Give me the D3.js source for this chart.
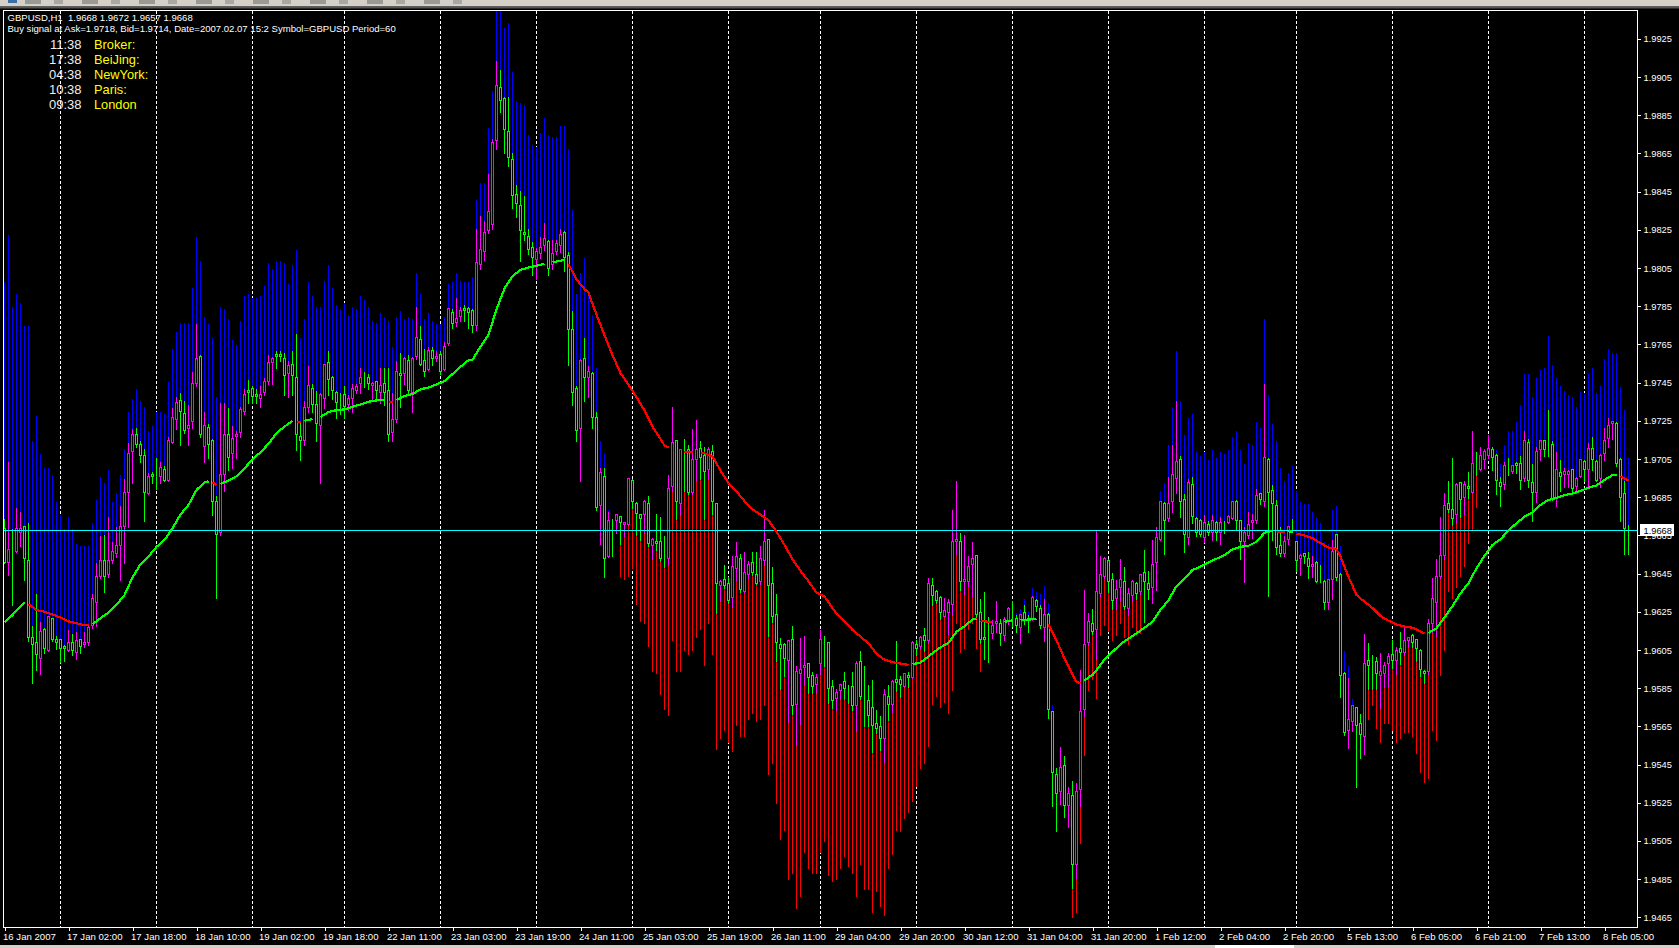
<!DOCTYPE html>
<html><head><meta charset="utf-8">
<script src="https://cdn.jsdelivr.net/npm/d3@7"></script>
<style>
html,body{margin:0;padding:0;background:#000;overflow:hidden}
svg{display:block;font-family:"Liberation Sans",Arial,sans-serif}
</style></head><body><svg id="c" width="1679" height="948"></svg>
<script>
// Prices are in pips: 9668 means 1.9668
const bands=[
9798,9823,9785,9792,9787,9775,9775,9715,9728,9708,
9701,9701,9697,9683,9676,9669,9675,9669,9661,9660,
9660,9660,9672,9684,9696,9693,9700,9683,9688,9697,
9711,9730,9737,9742,9736,9733,9720,9723,9730,9730,
9729,9746,9763,9772,9777,9777,9777,9795,9822,9809,
9780,9776,9769,9738,9785,9784,9779,9768,9765,9778,
9791,9792,9790,9790,9791,9796,9808,9805,9809,9809,
9808,9797,9807,9815,9769,9779,9798,9791,9785,9785,
9799,9807,9795,9786,9784,9787,9781,9785,9784,9791,
9789,9785,9778,9777,9782,9780,9778,9764,9780,9783,
9779,9780,9779,9803,9792,9779,9782,9778,9776,9776,
9780,9797,9798,9803,9799,9798,9798,9801,9841,9850,
9850,9879,9898,9942,9942,9931,9934,9908,9893,9892,
9891,9875,9870,9869,9876,9884,9875,9874,9874,9880,
9880,9868,9836,9792,9803,9811,9792,9781,9753,9715,
9708,9679,0,0,9644,9642,9644,9648,9629,9620,
9619,9607,9594,9593,9582,9574,9571,9610,9594,9594,
9605,9603,9605,9612,9616,9597,9619,9603,9553,9559,
9563,9557,9552,9566,9560,9560,9569,9572,9568,9569,
9576,9540,9546,9525,9506,9511,9485,9488,9470,9476,
9499,9491,9488,9488,9499,9505,9487,9484,9485,9491,
9497,9492,9488,9476,9493,9480,9480,9468,9479,9471,
9466,9491,9498,9511,9510,9517,9520,9526,9534,9543,
9546,9555,9577,9581,9575,9578,9572,9584,9619,9604,
9606,9616,9619,9606,9594,0,0,0,0,0,
0,0,0,9625,9627,9632,9626,9638,9636,9635,
9639,9630,9577,0,0,0,0,9465,9468,9504,
9550,9584,9590,9580,9613,9618,9615,9610,9613,9619,
9612,9608,9617,9615,9614,0,0,0,0,9689,
9693,9713,9733,9762,9736,9718,9727,9729,9709,9707,
9709,9705,9710,9706,9709,9708,9710,9717,9720,9710,
9703,9714,9713,9725,9722,9779,9739,9724,9715,9701,
9694,9698,9702,9689,9683,9682,9682,9678,9675,9672,
9662,9661,9679,9681,9660,9605,9597,9580,0,0,
0,9569,9576,9564,9557,9567,9567,9563,9557,9559,
9562,9562,9560,9551,9541,9536,9538,9563,9558,9592,
9605,9636,9632,9638,9644,9649,9661,9668,9680,0,
0,0,0,9710,9703,9713,9720,9720,9725,9734,
9750,9750,9738,9748,9752,9753,9770,9755,9748,9744,
9741,9739,9738,9733,9741,9740,9750,9753,9740,9744,
9758,9763,9761,9761,9743,9731,9706];
const highs=[
9674,9704,9669,9680,9678,9670,9672,9618,9635,9620,
9617,9623,9622,9613,9611,9608,9616,9614,9615,9611,
9615,9618,9635,9651,9665,9666,9675,9662,9670,9681,
9695,9714,9721,9722,9715,9711,9698,9699,9706,9704,
9702,9717,9732,9738,9740,9736,9734,9751,9776,9760,
9730,9724,9716,9686,9735,9735,9732,9723,9720,9733,
9742,9747,9744,9742,9744,9748,9760,9759,9762,9762,
9761,9757,9762,9771,9725,9736,9754,9745,9741,9740,
9755,9762,9749,9741,9740,9744,9739,9745,9745,9753,
9751,9750,9746,9746,9753,9753,9753,9740,9757,9761,
9759,9760,9759,9785,9775,9763,9764,9764,9762,9762,
9767,9784,9784,9790,9785,9786,9785,9784,9826,9833,
9830,9855,9873,9914,9909,9895,9895,9866,9849,9846,
9843,9826,9819,9816,9822,9829,9820,9820,9820,9826,
9825,9814,9783,9744,9758,9769,9754,9751,9730,9701,
9701,9678,9674,9677,9675,9672,9695,9695,9683,9677,
9684,9686,9664,9677,9675,9665,9697,9733,9715,9710,
9716,9713,9721,9726,9715,9712,9712,9713,9682,9642,
9650,9644,9655,9662,9656,9657,9652,9657,9657,9660,
9679,9663,9649,9635,9612,9609,9610,9618,9597,9612,
9613,9598,9594,9593,9616,9613,9609,9590,9585,9587,
9594,9587,9594,9600,9605,9597,9587,9590,9574,9571,
9585,9587,9590,9610,9592,9593,9594,9610,9611,9613,
9617,9643,9643,9637,9634,9633,9632,9679,9694,9667,
9666,9655,9662,9655,9632,9636,9623,9621,9631,9622,
9623,9628,9631,9624,9624,9629,9624,9634,9632,9629,
9632,9625,9573,9544,9555,9550,9534,9537,9536,9595,
9637,9625,9627,9668,9655,9654,9653,9646,9642,9653,
9649,9638,9642,9641,9645,9658,9647,9663,9670,9683,
9683,9696,9713,9736,9707,9687,9695,9696,9675,9674,
9676,9673,9676,9673,9675,9673,9676,9683,9684,9673,
9670,9678,9677,9690,9688,9745,9706,9692,9684,9670,
9665,9670,9674,9662,9656,9656,9657,9655,9652,9650,
9642,9642,9663,9666,9646,9594,9591,9577,9575,9572,
9614,9609,9603,9602,9604,9599,9604,9611,9607,9615,
9617,9612,9614,9611,9606,9595,9622,9643,9653,9675,
9688,9694,9706,9693,9693,9694,9699,9720,9709,9712,
9711,9718,9712,9708,9696,9704,9706,9702,9704,9707,
9720,9716,9703,9712,9715,9715,9731,9715,9709,9705,
9701,9700,9700,9696,9705,9705,9714,9717,9705,9708,
9722,9727,9725,9725,9706,9694,9671];
const lows=[
9651,9645,9629,9657,9660,9642,9610,9588,9595,9593,
9604,9605,9610,9606,9599,9600,9605,9603,9601,9604,
9607,9608,9617,9618,9643,9636,9644,9651,9654,9642,
9651,9670,9693,9712,9704,9673,9687,9693,9690,9693,
9694,9694,9714,9721,9713,9719,9713,9722,9744,9717,
9704,9706,9676,9633,9666,9689,9700,9701,9706,9717,
9729,9735,9735,9735,9733,9739,9745,9745,9753,9757,
9739,9738,9739,9710,9705,9713,9730,9730,9715,9693,
9732,9739,9737,9727,9729,9727,9731,9730,9740,9740,
9743,9742,9736,9736,9735,9734,9715,9715,9725,9733,
9745,9740,9730,9758,9755,9749,9752,9755,9757,9750,
9752,9765,9774,9775,9778,9778,9774,9772,9773,9805,
9810,9824,9826,9868,9887,9866,9859,9837,9832,9809,
9820,9813,9802,9800,9811,9815,9802,9805,9813,9814,
9804,9755,9734,9715,9694,9736,9738,9722,9679,9661,
9644,9654,9655,9667,9661,9665,9671,9680,9666,9663,
9667,9660,9653,9658,9652,9649,9650,9689,9674,9676,
9689,9687,9687,9694,9695,9674,9695,9677,9625,9631,
9638,9630,9628,9642,9636,9636,9643,9645,9640,9640,
9650,9613,9620,9600,9585,9592,9568,9572,9556,9567,
9587,9583,9583,9583,9593,9597,9578,9575,9574,9580,
9580,9578,9574,9563,9580,9566,9566,9552,9562,9553,
9547,9569,9573,9584,9581,9586,9586,9591,9603,9606,
9605,9609,9629,9630,9622,9623,9614,9624,9656,9637,
9635,9639,9634,9623,9609,9601,9599,9612,9615,9608,
9611,9619,9618,9615,9609,9619,9615,9621,9626,9617,
9610,9570,9524,9511,9525,9518,9513,9481,9486,9524,
9571,9608,9614,9601,9634,9643,9636,9627,9627,9631,
9627,9624,9631,9632,9635,9620,9632,9630,9637,9663,
9656,9673,9678,9688,9675,9657,9661,9672,9665,9665,
9662,9666,9663,9663,9661,9667,9672,9674,9669,9653,
9641,9664,9664,9672,9682,9681,9634,9663,9656,9655,
9655,9661,9668,9647,9645,9651,9643,9644,9641,9641,
9627,9627,9632,9642,9581,9561,9554,9563,9534,9549,
9551,9585,9585,9585,9575,9586,9586,9596,9593,9598,
9603,9607,9607,9600,9592,9588,9593,9615,9613,9643,
9653,9678,9671,9672,9675,9677,9685,9688,9697,9700,
9701,9706,9700,9687,9681,9690,9697,9698,9698,9690,
9694,9691,9673,9683,9705,9707,9707,9684,9681,9689,
9691,9691,9689,9688,9696,9694,9691,9700,9694,9691,
9705,9712,9716,9702,9673,9656,9656];
const opens=[
9669,9651,9659,9657,9667,9670,9652,9612,9609,9601,
9616,9605,9622,9611,9611,9607,9605,9609,9604,9611,
9608,9609,9618,9630,9644,9652,9645,9652,9656,9660,
9670,9688,9709,9718,9713,9707,9687,9697,9697,9696,
9700,9694,9714,9726,9736,9729,9721,9725,9745,9759,
9712,9722,9715,9683,9667,9697,9718,9708,9717,9719,
9730,9741,9742,9739,9737,9740,9746,9756,9760,9760,
9758,9750,9755,9748,9717,9715,9732,9742,9734,9723,
9737,9756,9748,9740,9735,9739,9734,9737,9741,9745,
9748,9748,9744,9746,9740,9745,9741,9719,9726,9750,
9750,9757,9740,9759,9768,9757,9752,9762,9758,9760,
9752,9766,9782,9777,9780,9784,9784,9783,9775,9807,
9814,9825,9828,9872,9900,9894,9877,9862,9844,9838,
9824,9822,9816,9810,9813,9817,9819,9807,9814,9817,
9824,9812,9773,9742,9721,9758,9748,9750,9727,9681,
9696,9654,9672,9673,9675,9671,9671,9694,9682,9676,
9676,9682,9660,9662,9662,9652,9653,9691,9715,9682,
9709,9710,9688,9705,9711,9707,9700,9709,9682,9639,
9642,9640,9633,9648,9653,9636,9645,9651,9645,9641,
9652,9663,9640,9624,9608,9608,9600,9611,9577,9593,
9596,9598,9592,9587,9598,9610,9609,9586,9580,9584,
9589,9584,9586,9576,9599,9582,9579,9575,9567,9565,
9559,9581,9577,9590,9590,9586,9592,9591,9608,9607,
9613,9610,9639,9636,9633,9623,9625,9629,9662,9662,
9641,9641,9650,9655,9625,9612,9613,9614,9619,9619,
9613,9620,9626,9622,9617,9625,9622,9621,9631,9627,
9617,9624,9573,9540,9531,9545,9524,9529,9493,9532,
9574,9609,9619,9616,9635,9644,9652,9642,9632,9638,
9641,9627,9634,9640,9636,9646,9640,9638,9651,9663,
9682,9674,9683,9695,9705,9684,9664,9692,9674,9673,
9664,9671,9667,9672,9667,9671,9672,9674,9683,9673,
9662,9665,9672,9673,9687,9683,9705,9689,9681,9660,
9656,9663,9671,9662,9653,9656,9653,9649,9651,9642,
9641,9630,9642,9666,9645,9593,9563,9568,9575,9567,
9560,9600,9598,9599,9592,9593,9598,9603,9600,9606,
9604,9610,9613,9611,9605,9594,9594,9619,9630,9644,
9655,9682,9679,9676,9693,9685,9691,9688,9702,9700,
9705,9707,9710,9707,9693,9692,9701,9699,9703,9703,
9695,9714,9693,9688,9710,9715,9712,9713,9685,9698,
9697,9697,9700,9691,9696,9704,9700,9711,9704,9695,
9708,9716,9724,9724,9705,9687,9668];
const closes=[
9651,9658,9659,9669,9669,9653,9612,9608,9603,9615,
9606,9623,9611,9609,9606,9606,9609,9605,9610,9607,
9609,9617,9632,9644,9652,9644,9652,9657,9660,9670,
9688,9708,9718,9713,9707,9688,9696,9696,9697,9701,
9694,9715,9727,9735,9730,9720,9723,9745,9758,9718,
9723,9713,9683,9666,9697,9718,9706,9716,9718,9731,
9739,9740,9738,9738,9739,9746,9756,9758,9759,9759,
9749,9754,9749,9718,9715,9732,9744,9734,9724,9739,
9755,9747,9741,9735,9735,9733,9737,9742,9743,9748,
9748,9745,9745,9741,9744,9740,9718,9726,9751,9749,
9758,9741,9758,9769,9755,9751,9762,9758,9759,9751,
9764,9784,9776,9779,9783,9783,9782,9775,9808,9815,
9824,9835,9871,9901,9893,9878,9863,9843,9839,9825,
9823,9815,9811,9814,9816,9821,9805,9813,9818,9823,
9811,9773,9740,9720,9757,9748,9751,9727,9680,9698,
9653,9673,9672,9676,9672,9672,9695,9683,9677,9674,
9683,9661,9663,9661,9653,9652,9690,9714,9683,9710,
9709,9688,9705,9710,9706,9699,9710,9683,9640,9641,
9639,9631,9649,9654,9637,9646,9650,9646,9640,9653,
9662,9639,9623,9609,9606,9601,9610,9576,9594,9595,
9597,9591,9586,9591,9611,9610,9585,9579,9583,9587,
9585,9584,9576,9598,9581,9582,9571,9566,9564,9559,
9582,9577,9589,9588,9587,9593,9591,9609,9606,9612,
9610,9640,9634,9631,9625,9626,9630,9662,9663,9641,
9642,9649,9653,9624,9611,9611,9613,9618,9620,9614,
9621,9627,9626,9618,9624,9621,9621,9633,9628,9618,
9624,9574,9541,9530,9544,9524,9530,9493,9531,9573,
9608,9620,9615,9636,9645,9653,9641,9631,9637,9642,
9628,9635,9641,9635,9645,9641,9637,9650,9664,9683,
9673,9682,9697,9704,9683,9666,9693,9675,9667,9666,
9672,9667,9673,9667,9672,9671,9675,9683,9673,9662,
9667,9671,9673,9686,9684,9706,9688,9682,9659,9656,
9662,9670,9671,9652,9655,9654,9649,9650,9641,9642,
9630,9642,9657,9643,9592,9562,9569,9576,9566,9561,
9598,9597,9598,9593,9594,9597,9602,9600,9605,9604,
9610,9612,9609,9606,9595,9593,9619,9632,9644,9655,
9681,9679,9674,9692,9684,9692,9690,9703,9702,9707,
9709,9711,9706,9694,9691,9702,9701,9702,9702,9694,
9715,9694,9688,9709,9715,9710,9712,9684,9700,9696,
9699,9699,9690,9695,9705,9700,9711,9705,9694,9707,
9715,9723,9725,9703,9685,9669,9668];
// moving average: [bar, value]
const maPoints=[
[0,9619.5],[2,9623.3],[4,9628],[5,9630],[6,9629],[8,9626],[10,9625],[12,9623.6],[14,9622],[16,9620],[18,9619],[20,9618],[21,9618],
[22,9618.6],[24,9621.6],[26,9624.7],[28,9628.6],[30,9633.8],[32,9643],[34,9650],[36,9654],[38,9659],[40,9662.6],[42,9668.7],[44,9676],[46,9681],[48,9688.8],[50,9692.8],[51,9693.3],
[52,9692.8],[53,9691.4],[54,9692],[56,9693.7],[58,9696],[60,9700],[62,9705],[64,9708.5],[66,9713],[68,9718.6],[70,9722],[72,9725],[73,9724.4],[74,9724.4],[75,9725],[77,9726],[78,9726.5],
[79,9727],[81,9729.6],[83,9730.6],[85,9731],[87,9732.4],[89,9733.6],[91,9735],[93,9735.7],[95,9735.9],[96,9734.8],[97,9734.8],
[98,9736],[100,9738],[102,9739],[104,9741.5],[106,9742.5],[108,9744],[110,9745.8],[112,9749.5],[114,9753.3],[116,9756.8],[117,9757],[119,9763.8],[121,9770],[123,9783.3],[125,9794.3],[127,9800.8],[129,9804],[131,9805.3],[133,9806.2],[135,9807.2],[136,9807.4],
[137,9808],[139,9808.8],[140,9809.3],[141,9807],[143,9799],[145,9794],[146,9792],[148,9780.7],[150,9769.8],[152,9759.4],[154,9750],[156,9744],[158,9737.4],[160,9730.5],[162,9722],[164,9715.5],[165,9712],[166,9711],
[168,9710],[170,9709],[171,9708.5],[172,9708.5],[173,9708.3],[174,9708],[175,9708],[177,9706.4],[179,9699],[181,9692.4],[183,9688],[185,9683],[187,9678.7],[189,9675.9],[191,9672.8],[193,9667],[195,9660],[197,9652.5],[199,9646.5],[201,9641],[203,9635],[205,9633],[206,9630],[208,9624],[210,9620],[212,9615.5],[214,9612],[216,9608.5],[218,9603],[220,9600],[222,9598.7],[224,9597.9],[226,9597.2],
[227,9597.6],[229,9598.4],[230,9600],[232,9603.3],[234,9606.4],[236,9608.7],[238,9614.6],[240,9617.4],[242,9621],[243,9621.2],[244,9620.3],[246,9619.8],[247,9619.6],
[250,9619.8],[252,9620.5],[253,9620.6],[254,9620.7],[256,9620.9],[258,9621.4],[261,9618.6],[263,9610],[265,9600.6],[267,9592],[268,9588.4],[269,9587.5],
[270,9588.9],[271,9590.7],[272,9591.9],[273,9594.5],[275,9600],[277,9604],[279,9608],[281,9611],[283,9613.7],[285,9616.7],[287,9619.8],[289,9626],[291,9631],[293,9638.5],[295,9642.5],[297,9646.9],[299,9648.6],[301,9650.9],[303,9652.8],[305,9654.7],[307,9657.7],[309,9659],[311,9659.6],[313,9661.7],[315,9666.4],[317,9667.4],
[318,9666.8],[320,9666.8],[321,9667],[322,9667.1],[323,9665.9],[325,9665],[327,9663.6],[329,9661],[331,9658.7],[333,9657.9],[334,9653.8],[336,9643.4],[338,9633.8],[340,9630.3],[342,9627],[344,9622.8],[346,9620.3],[348,9618.4],[350,9617.3],[352,9616.7],[354,9614.6],[355,9613.8],
[356,9614],[358,9616.4],[360,9622],[362,9628],[364,9634.7],[366,9640],[368,9647.8],[370,9654.3],[372,9660],[374,9663],[376,9667.5],[378,9671.4],[380,9674.8],[382,9676.9],[384,9681],[386,9683.6],[388,9684.6],[390,9686],[392,9687],[394,9688.3],[396,9690],[398,9691.2],[400,9694],[402,9696.6],[403,9696.6],[404,9696],[406,9693.7]];
// bars at which the average changes colour (it starts out rising)
const maFlips=[6,22,52,54,73,75,78,79,96,98,136,137,141,168,170,173,174,227,244,250,253,254,261,270,318,321,323,356,404];
const gridBars=[14,38,62,85,109,133,157,181,204,228,252,276,300,323,347,371,395];
const priceTicks=[9925,9905,9885,9865,9845,9825,9805,9785,9765,9745,9725,9705,9685,9665,9645,9625,9605,9585,9565,9545,9525,9505,9485,9465];
const timeLabels=["16 Jan 2007","17 Jan 02:00","17 Jan 18:00","18 Jan 10:00","19 Jan 02:00","19 Jan 18:00","22 Jan 11:00","23 Jan 03:00","23 Jan 19:00","24 Jan 11:00","25 Jan 03:00","25 Jan 19:00","26 Jan 11:00","29 Jan 04:00","29 Jan 20:00","30 Jan 12:00","31 Jan 04:00","31 Jan 20:00","1 Feb 12:00","2 Feb 04:00","2 Feb 20:00","5 Feb 13:00","6 Feb 05:00","6 Feb 21:00","7 Feb 13:00","8 Feb 05:00"];
const lastPrice=9668;
const clockTimes=["11:38","17:38","04:38","10:38","09:38"];
const clockCities=["Broker:","BeiJing:","NewYork:","Paris:","London"];
const headerLines=["GBPUSD,H1  1.9668 1.9672 1.9657 1.9668","Buy signal at Ask=1.9718, Bid=1.9714, Date=2007.02.07 15:2 Symbol=GBPUSD Period=60"];

const W=1679,H=948,L=3.5,R=1637.5,T=10.5,B=927.5;
const svg=d3.select("#c");
const x=d3.scaleLinear().domain([0,406]).range([4.5,1628.5]);
const y=d3.scaleLinear().domain([9460.5,9939.6]).range([926,11]);
const py=v=>Math.round(y(v))+.5;
svg.append("rect").attr("width",W).attr("height",H).attr("fill","#000");
// window chrome
svg.append("rect").attr("width",W).attr("height",6.5).attr("fill","#d4d0c8");
svg.append("rect").attr("y",6.5).attr("width",W).attr("height",2).attr("fill","#555");
svg.append("rect").attr("y",945).attr("width",W).attr("height",3).attr("fill","#d4d0c8");
svg.append("rect").attr("x",1215).attr("y",945).attr("width",79).attr("height",3).attr("fill","#fff");
svg.append("rect").attr("x",8).attr("width",9).attr("height",3).attr("fill","#3a6ea5");
d3.range(8).forEach(i=>svg.append("rect").attr("x",25+i*57).attr("width",16).attr("height",4).attr("fill","#9a9a94"));
d3.range(8).forEach(i=>svg.append("rect").attr("x",54+i*57).attr("width",9).attr("height",4).attr("fill","#a8a8a2"));

svg.append("clipPath").attr("id","pl").append("rect").attr("x",L).attr("y",T).attr("width",R-L).attr("height",B-T);
// header text
svg.selectAll("text.h").data(headerLines).join("text").attr("class","h")
 .attr("x",7.5).attr("y",(d,i)=>21+i*11).attr("fill","#fff").attr("font-size",9.55).style("white-space","pre").text(d=>d);
svg.selectAll("text.t").data(clockTimes).join("text").attr("class","t")
 .attr("x",81.5).attr("y",(d,i)=>48.5+i*15).attr("text-anchor","end").attr("fill","#eee").attr("font-size",13).text(d=>d);
svg.selectAll("text.p").data(clockCities).join("text").attr("class","p")
 .attr("x",94).attr("y",(d,i)=>48.5+i*15).attr("fill","#ffff00").attr("font-size",12.8).text(d=>d);

const plot=svg.append("g").attr("clip-path","url(#pl)").attr("shape-rendering","crispEdges");
plot.selectAll("line.g").data(gridBars).join("line").attr("class","g")
 .attr("x1",d=>x(d)).attr("x2",d=>x(d)).attr("y1",T).attr("y2",B)
 .attr("stroke","#fff").attr("stroke-dasharray","3,2");
const bars=d3.range(opens.length);
plot.selectAll("line.b").data(bars.filter(i=>bands[i]>0)).join("line").attr("class","b")
 .attr("x1",i=>x(i)).attr("x2",i=>x(i))
 .attr("y1",i=>py(bands[i])).attr("y2",i=>bands[i]>highs[i]?py(highs[i]):py(lows[i]))
 .attr("stroke",i=>bands[i]>highs[i]?"#0000ff":"#ff0000");
const col=i=>closes[i]>opens[i]?"#ff00ff":"#00ff00";
plot.selectAll("line.w").data(bars).join("line").attr("class","w")
 .attr("x1",i=>x(i)).attr("x2",i=>x(i)).attr("y1",i=>py(highs[i])).attr("y2",i=>py(lows[i])+1).attr("stroke",col);
plot.selectAll("rect.c").data(bars).join("rect").attr("class","c")
 .attr("x",i=>x(i)-1).attr("width",2)
 .attr("y",i=>py(Math.max(opens[i],closes[i])))
 .attr("height",i=>py(Math.min(opens[i],closes[i]))-py(Math.max(opens[i],closes[i])))
 .attr("fill","#000").attr("stroke",col);
// price line
plot.append("line").attr("x1",L).attr("x2",R).attr("y1",py(lastPrice)).attr("y2",py(lastPrice)).attr("stroke","#00ffff");
// moving average, drawn run by run
const runs=[];let rising=true,cur=[];
maPoints.forEach(p=>{
  const flip=maFlips.includes(p[0]);
  if(flip){runs.push({rising,pts:cur});cur=[];rising=!rising;}
  cur.push(p);
});
runs.push({rising,pts:cur});
const ln=d3.line().x(p=>x(p[0])).y(p=>y(p[1]));
plot.selectAll("path.ma").data(runs).join("path").attr("class","ma")
 .attr("d",r=>ln(r.pts)).attr("fill","none").attr("stroke-width",2.2)
 .attr("stroke",r=>r.rising?"#00ff00":"#ff0000");

// frame and axes
svg.append("path").attr("d",`M${L},${B}V${T}H${R}`).attr("fill","none").attr("stroke","#fff").attr("shape-rendering","crispEdges");
const ay=svg.append("g").attr("transform",`translate(${R},0)`).call(d3.axisRight(y).tickValues(priceTicks).tickSize(3).tickPadding(3).tickFormat(v=>(1+v/1e4).toFixed(4)));
const ax=svg.append("g").attr("transform",`translate(0,${B})`).call(d3.axisBottom(x).tickValues(timeLabels.map((d,i)=>i*16)).tickSize(3).tickFormat((v,i)=>timeLabels[i]));
[ay,ax].forEach(a=>{
  a.attr("font-family",'"Liberation Sans",Arial,sans-serif').attr("font-size",a===ay?9.3:9.6).attr("shape-rendering","crispEdges");
  a.selectAll("path.domain").attr("stroke","#fff").attr("d",a===ay?`M0,${T}V${B}`:`M${L},0H${R}`);
  a.selectAll("line").attr("stroke","#fff");
  a.selectAll("text").attr("fill","#fff");
});
ax.selectAll("text").attr("text-anchor","start").attr("x",-2).attr("y",3.5).attr("dy","0.9em");
// last price tag
svg.append("rect").attr("x",1640).attr("y",py(lastPrice)-6.5).attr("width",34).attr("height",12).attr("fill","#fff");
svg.append("text").attr("x",1643.5).attr("y",py(lastPrice)+3.5).attr("fill","#000").attr("font-size",9.3).text((1+lastPrice/1e4).toFixed(4));
</script></body></html>
